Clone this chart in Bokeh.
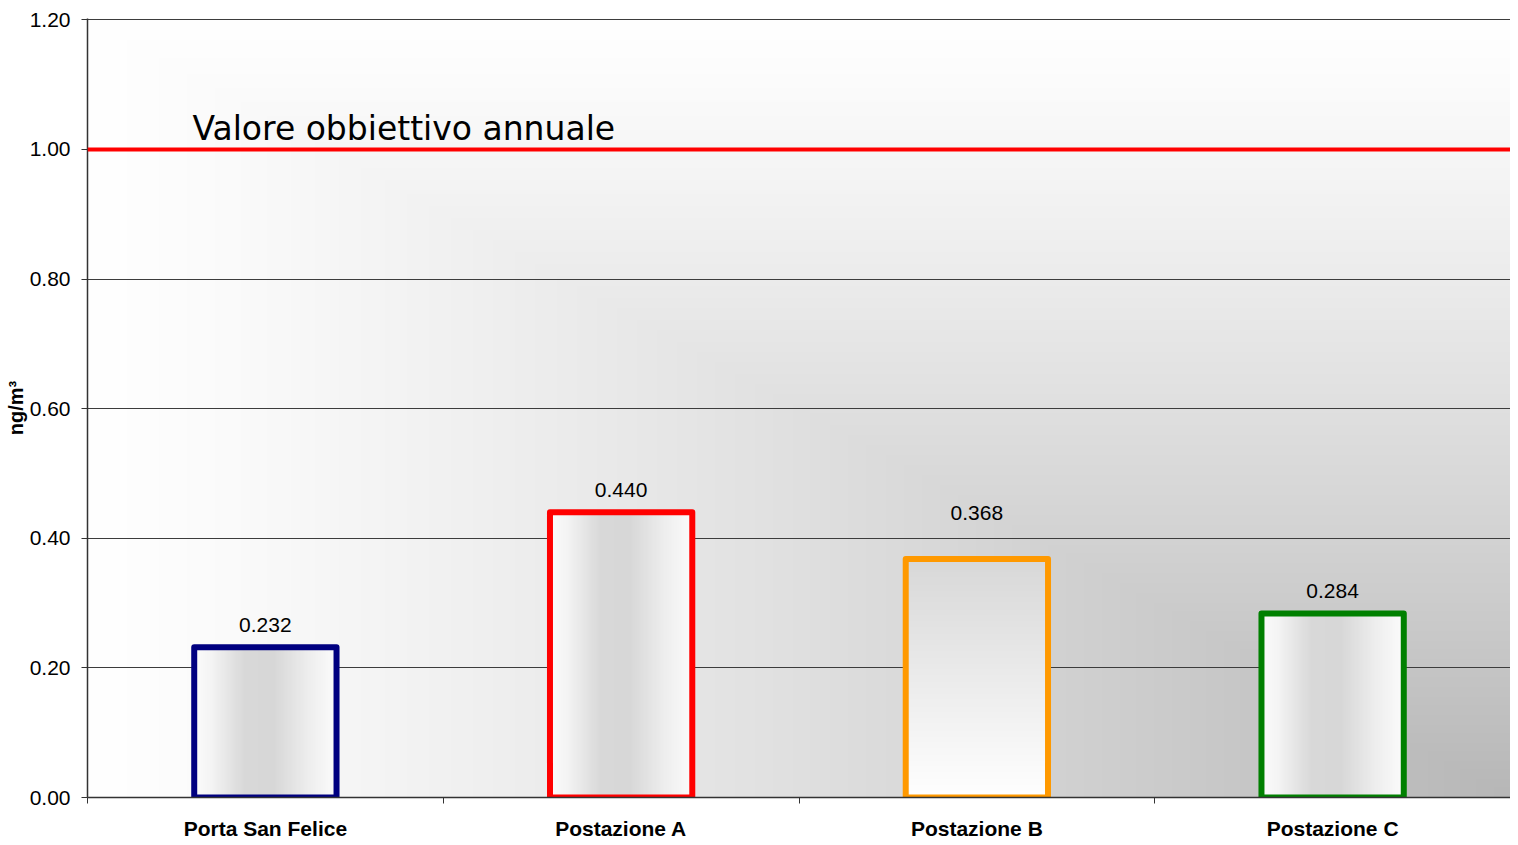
import numpy as np
from bokeh.plotting import figure
from bokeh.models import (Range1d, FixedTicker, LinearAxis, Span, Label,
                          NumeralTickFormatter, ColumnDataSource)
from bokeh.core.properties import value
from bokeh.embed import file_html
from bokeh.resources import INLINE

# ---------------- data ----------------
categories = ["Porta San Felice", "Postazione A", "Postazione B", "Postazione C"]
values = [0.232, 0.440, 0.368, 0.284]
value_labels = ["0.232", "0.440", "0.368", "0.284"]
target_value = 1.0
target_label = "Valore obbiettivo annuale"
y_ticks = [0.0, 0.2, 0.4, 0.6, 0.8, 1.0, 1.2]
y_axis_title = "ng/m\u00b3"

# ---------------- style ----------------
bar_colors = ["#000080", "#ff0000", "#ff9900", "#008000"]
gradient_dir = ["h", "h", "v", "h"]
label_dy = [-22, -22, -46, -22]
FONT = "Liberation Sans"
BAR_W = 0.40

n = len(categories)
xc = [i + 0.5 for i in range(n)]
y_max = y_ticks[-1]

p = figure(frame_width=1423, frame_height=779,
           x_range=Range1d(0, n), y_range=Range1d(0, y_max + 0.002),
           output_backend="svg", toolbar_location=None,
           min_border_left=87, min_border_right=0, min_border_top=18,
           min_border_bottom=40, background_fill_color="white",
           border_fill_color="white", outline_line_color=None)


def to_rgba(gray):
    g = np.clip(gray, 0, 255).astype(np.uint8)
    arr = np.empty(g.shape + (4,), dtype=np.uint8)
    arr[..., 0] = g
    arr[..., 1] = g
    arr[..., 2] = g
    arr[..., 3] = 255
    return arr.view(np.uint32).reshape(g.shape)


# background: corner gradient (white top-left -> grey bottom-right)
H, W = 390, 712
ys = (np.arange(H) + 0.5) / H
xs = (np.arange(W) + 0.5) / W
u = 1.0 - xs[None, :]
v = ys[:, None]
t = np.clip(np.maximum(u, v), 0, 1)
bg = 255 - 72 * (1 - t) ** 1.2
p.image_rgba(image=[to_rgba(bg)], x=0, y=0, dw=n, dh=y_max + 0.002,
             level="image")

# bar fills (gradients)
N = 128
pos = np.linspace(0, 1, N)
h_prof = np.interp(pos, [0, 0.12, 0.35, 0.55, 0.8, 1.0],
                   [252, 244, 217, 215, 238, 252])
v_prof = np.interp(pos, [0, 1.0], [255, 216])  # bottom -> top
imgs = []
for d in gradient_dir:
    if d == "h":
        g = np.tile(h_prof[None, :], (N, 1))
    else:
        g = np.tile(v_prof[:, None], (1, N))
    imgs.append(to_rgba(g))
p.image_rgba(image=imgs, x=[x - BAR_W / 2 for x in xc], y=[0] * n,
             dw=[BAR_W] * n, dh=values)

src = ColumnDataSource(dict(x=xc, top=values, color=bar_colors,
                            lab=value_labels, dy=label_dy))
p.vbar(x="x", top="top", width=BAR_W, source=src, fill_alpha=0,
       line_color="color", line_width=6, line_join="round")

p.text(x="x", y="top", text="lab", y_offset="dy", source=src,
       text_align="center", text_baseline="middle",
       text_font=value(FONT), text_font_size="21px", text_color="black")

# target line
p.add_layout(Span(location=target_value, dimension="width",
                  line_color="#ff0000", line_width=4))
p.add_layout(Label(x=0.295, y=target_value + 0.033, text=target_label,
                   text_font="DejaVu Sans", text_font_size="33px",
                   text_color="black", text_baseline="alphabetic"))

# y axis
ya = p.yaxis[0]
ya.ticker = FixedTicker(ticks=y_ticks)
ya.formatter = NumeralTickFormatter(format="0.00")
ya.major_label_text_font = FONT
ya.major_label_text_font_size = "21px"
ya.major_label_text_color = "black"
ya.major_label_standoff = 11
ya.major_tick_out = 6
ya.major_tick_in = 0
ya.minor_tick_line_color = None
ya.axis_line_color = "#333333"
ya.axis_line_width = 1.5
ya.major_tick_line_color = "#333333"
ya.axis_label = y_axis_title
ya.axis_label_standoff = 0
ya.axis_label_text_font = FONT
ya.axis_label_text_font_style = "bold"
ya.axis_label_text_font_size = "20px"
ya.axis_label_text_color = "black"

# x axis: boundary ticks
xa = p.xaxis[0]
xa.ticker = FixedTicker(ticks=list(range(n + 1)))
xa.major_label_text_font_size = "1px"
xa.major_label_text_alpha = 0
xa.major_label_standoff = 0
xa.major_tick_out = 6
xa.major_tick_in = 0
xa.minor_tick_line_color = None
xa.axis_line_color = "#333333"
xa.axis_line_width = 1.5
xa.major_tick_line_color = "#333333"

# x axis: category labels
xl = LinearAxis(ticker=FixedTicker(ticks=xc),
                major_label_overrides={x: c for x, c in zip(xc, categories)},
                axis_line_color=None, major_tick_line_color=None,
                minor_tick_line_color=None, major_label_standoff=7,
                major_label_text_font=FONT, major_label_text_font_style="bold",
                major_label_text_font_size="21px",
                major_label_text_color="black")
p.add_layout(xl, "below")

# grid
p.xgrid.visible = False
p.ygrid.ticker = FixedTicker(ticks=y_ticks)
p.ygrid.grid_line_color = "#3c3c3c"
p.ygrid.grid_line_width = 1

open("out.html", "w").write(file_html(p, INLINE))
